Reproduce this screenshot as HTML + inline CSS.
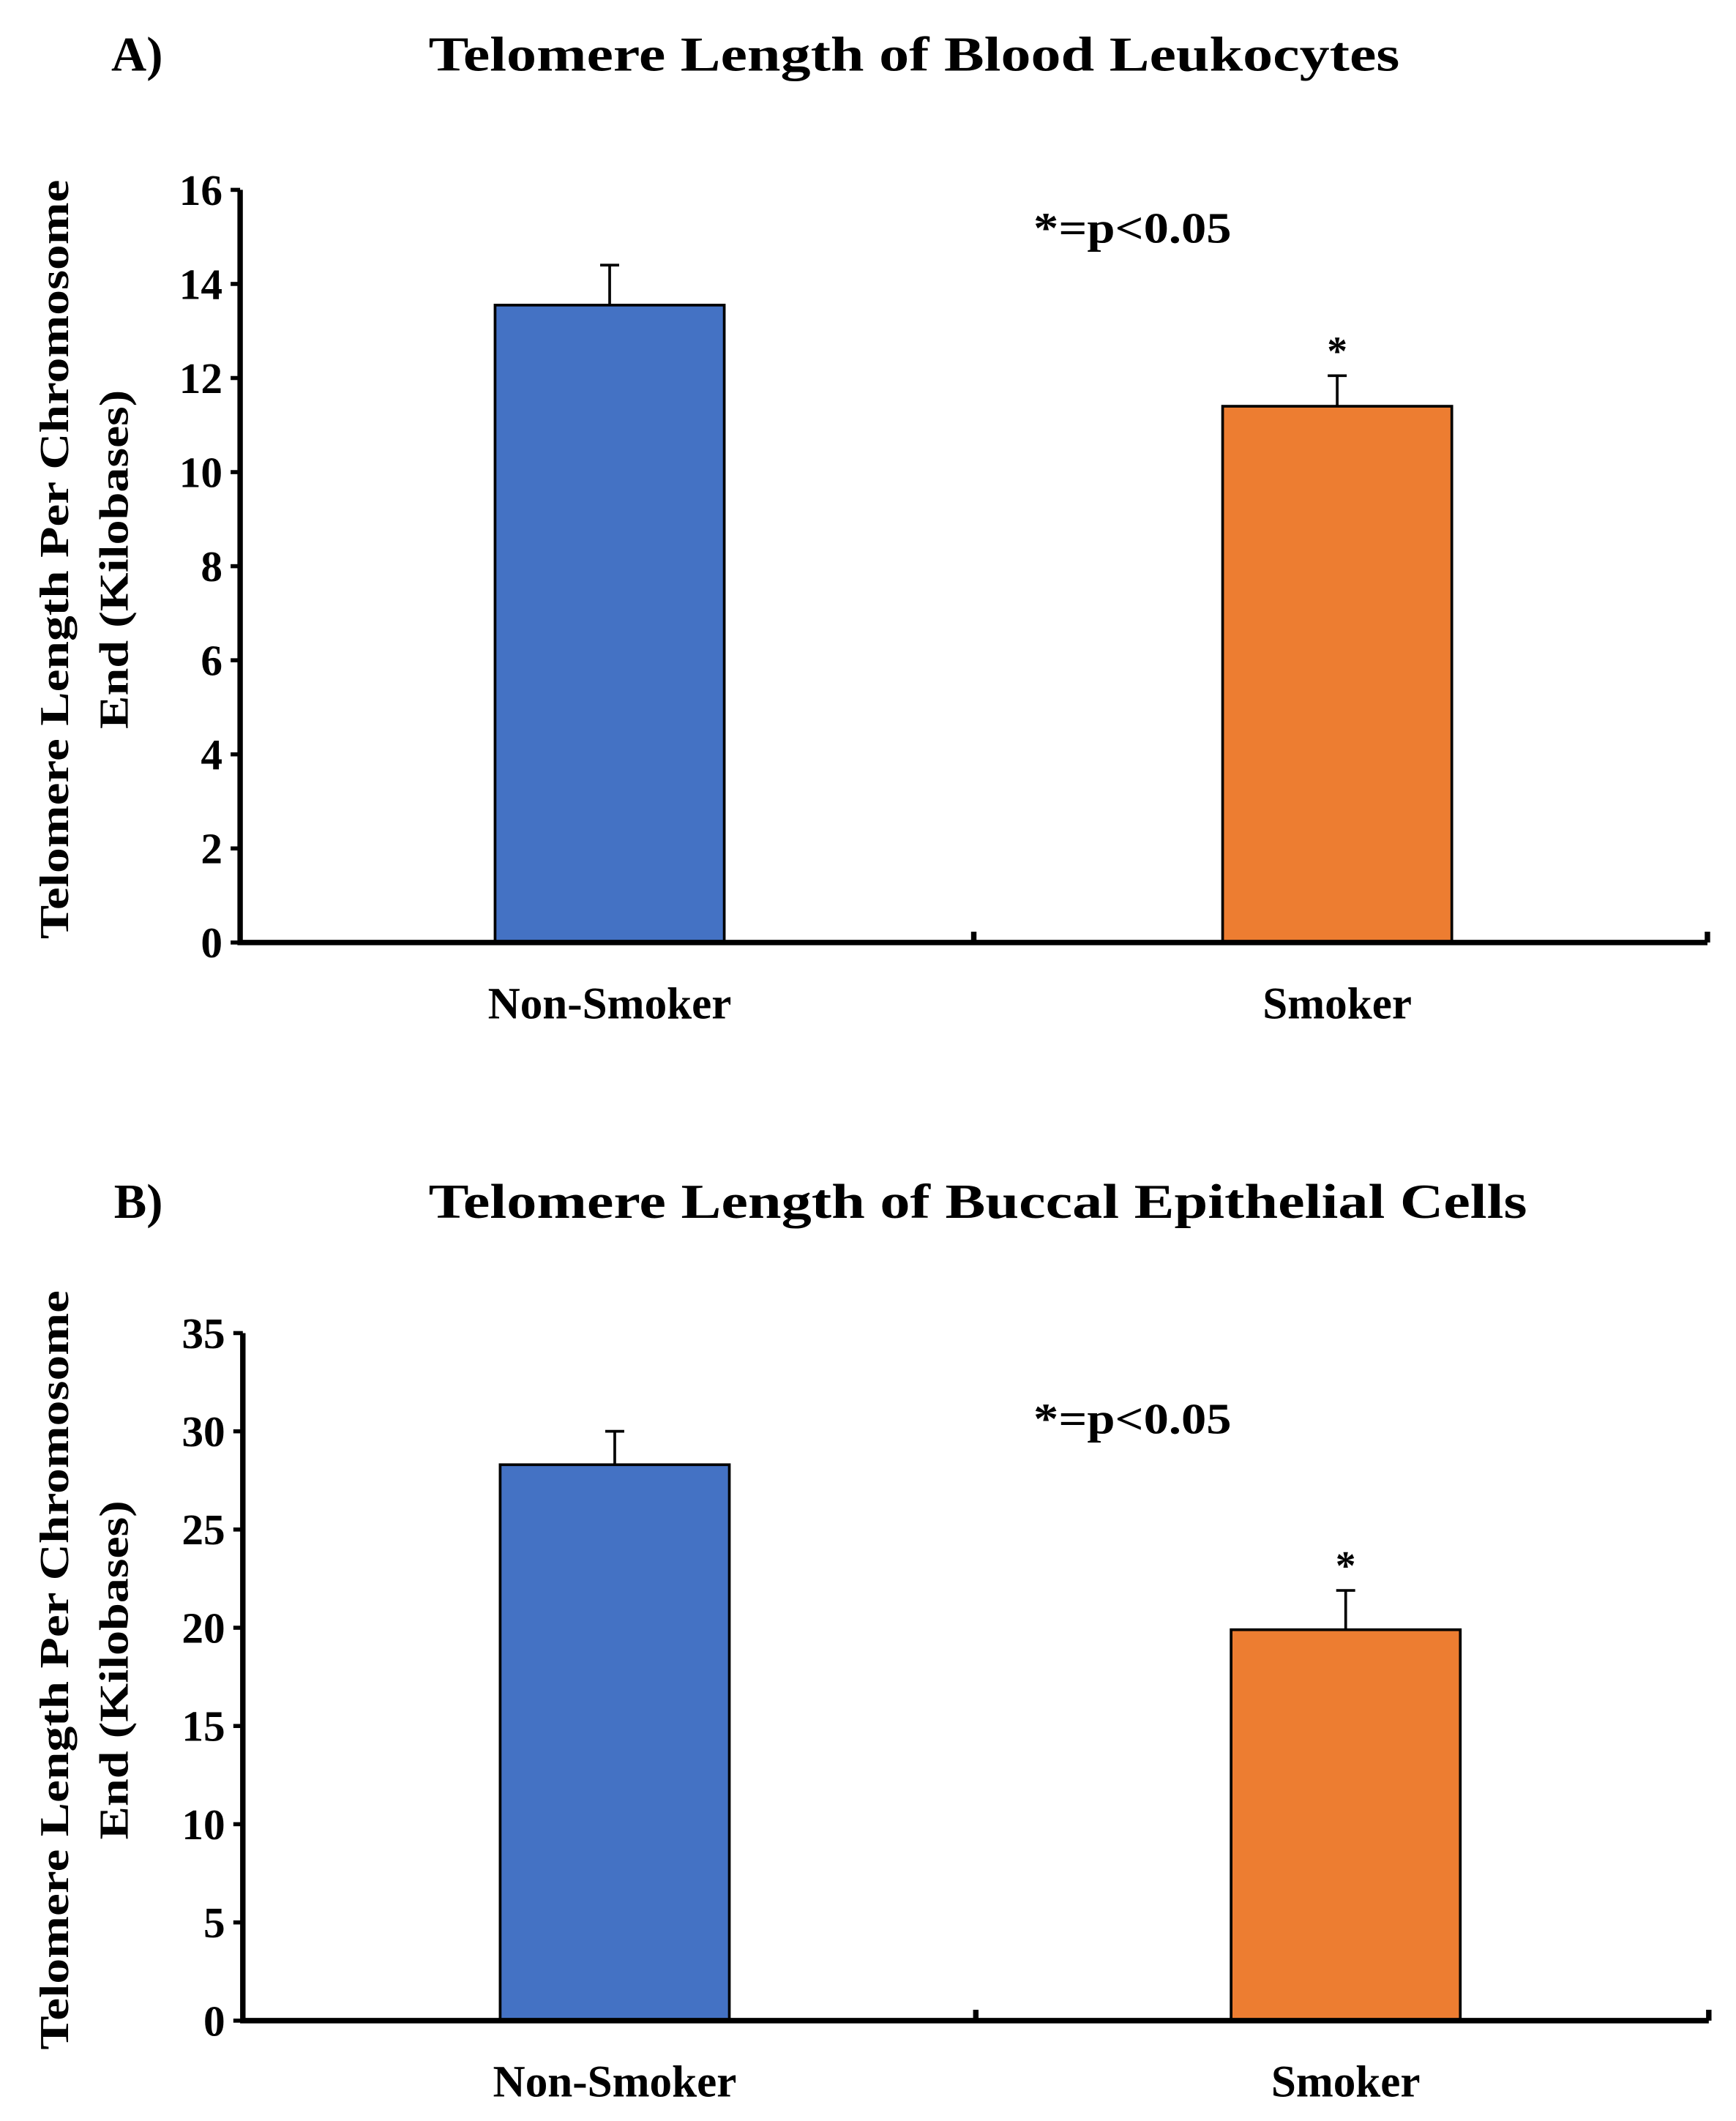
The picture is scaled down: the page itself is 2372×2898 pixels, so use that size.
<!DOCTYPE html>
<html><head><meta charset="utf-8"><style>
html,body{margin:0;padding:0;background:#fff;}
svg{display:block;}
text{font-family:"Liberation Serif",serif;font-weight:bold;fill:#000;}
</style></head><body>
<svg id="fig" width="2372" height="2898" viewBox="0 0 1280 1564"></svg>
<script>
const categories = ["Non-Smoker", "Smoker"];
const panelLabels = ["A)", "B)"];
const panelTitles = ["Telomere Length of Blood Leukocytes", "Telomere Length of Buccal Epithelial Cells"];
const meansA = [13.55, 11.4];
const errorsA = [0.85, 0.65];
const meansB = [28.3, 19.9];
const errorsB = [1.7, 2.0];
const ticksA = [0, 2, 4, 6, 8, 10, 12, 14, 16];
const ticksB = [0, 5, 10, 15, 20, 25, 30, 35];
const sigFlags = [false, true];
const colors = ["#4472c4", "#ed7d31"];

const NS = "http://www.w3.org/2000/svg";
const svg = document.getElementById("fig");
function mk(tag, attrs, parent) {
  const e = document.createElementNS(NS, tag);
  for (const k in attrs) e.setAttribute(k, attrs[k]);
  (parent || svg).appendChild(e);
  return e;
}

function panel(idx, means, errs, ticks, layout) {
  const g = mk("g", {});
  
  
  const {x0, x1, yBase, yTop, titleY, barL, barW, pY, pX, titleL, titleW} = layout;
  const vmax = ticks[ticks.length - 1];
  const y = v => yBase - (v / vmax) * (yBase - yTop);
  const xc = i => x0 + (x1 - x0) * (i + 0.5) / categories.length;

  let t = mk("text", {x: layout.lblX, y: titleY, "font-size": 36}, g);
  t.textContent = panelLabels[idx];
  
  
  t = mk("text", {x: titleL, y: titleY, "font-size": 36, textLength: titleW, lengthAdjust: "spacingAndGlyphs"}, g);
  t.textContent = panelTitles[idx];
  
  

  const yc = (yBase + yTop) / 2 + layout.ytOff;
  t = mk("text", {x: 0, y: 0, "font-size": 30, "text-anchor": "middle", transform: `translate(50,${yc}) rotate(-90)`, textLength: layout.yt1, lengthAdjust: "spacingAndGlyphs"}, g);
  t.textContent = "Telomere Length Per Chromosome";
  
  
  t = mk("text", {x: 0, y: 0, "font-size": 30, "text-anchor": "middle", transform: `translate(94,${yc}) rotate(-90)`, textLength: layout.yt2, lengthAdjust: "spacingAndGlyphs"}, g);
  t.textContent = "End (Kilobases)";
  
  

  ticks.forEach(v => {
    const l = mk("line", {x1: x0 - 7, x2: x0, y1: y(v), y2: y(v), stroke: "#000", "stroke-width": 3}, g);
    
    
    const tt = mk("text", {x: x0 - 13, y: y(v) + 11, "font-size": 32, "text-anchor": "end"}, g);
    tt.textContent = v;
    
    
  });

  means.forEach((m, i) => {
    const cx = xc(i) + barL[i];
    const bx = cx - barW / 2;
    const e1 = mk("line", {x1: cx, x2: cx, y1: y(m), y2: y(m + errs[i]), stroke: "#000", "stroke-width": 2}, g);
    
    
    const e2 = mk("line", {x1: cx - 7, x2: cx + 7, y1: y(m + errs[i]), y2: y(m + errs[i]), stroke: "#000", "stroke-width": 2}, g);
    
    
    const r = mk("rect", {x: bx, y: y(m), width: barW, height: yBase - y(m), fill: colors[i], stroke: "#000", "stroke-width": 2}, g);
    
    
    if (sigFlags[i]) {
      const s = mk("text", {x: cx, y: y(m + errs[i]) - 8, "font-size": 30, "text-anchor": "middle"}, g);
      s.textContent = "*";
      
      
    }
    const xl = mk("text", {x: cx, y: yBase + 56, "font-size": 33, "text-anchor": "middle"}, g);
    xl.textContent = categories[i];
    
    
  });

  const ax = mk("path", {d: `M${x0},${yTop} V${yBase} H${x1} M${(x0 + x1) / 2},${yBase} v-8 M${x1},${yBase} v-8`, fill: "none", stroke: "#000", "stroke-width": 4}, g);
  
  

  t = mk("text", {x: pX, y: pY, "font-size": 32, textLength: 146, lengthAdjust: "spacingAndGlyphs"}, g);
  t.textContent = "*=p<0.05";
  
  
}

panel(0, meansA, errorsA, ticksA, {x0: 177, x1: 1259, yBase: 695, yTop: 140, titleY: 52, lblX: 82, titleL: 316, titleW: 716, barL: [2, -2.5], barW: 169, pX: 762, pY: 179, ytOff: -5, yt1: 560, yt2: 250});
panel(1, meansB, errorsB, ticksB, {x0: 179, x1: 1260, yBase: 1490, yTop: 983, titleY: 898, lblX: 84, titleL: 316, titleW: 810, barL: [4, 2.5], barW: 169, pX: 762, pY: 1057, ytOff: -5, yt1: 560, yt2: 250});
</script>
</body></html>
